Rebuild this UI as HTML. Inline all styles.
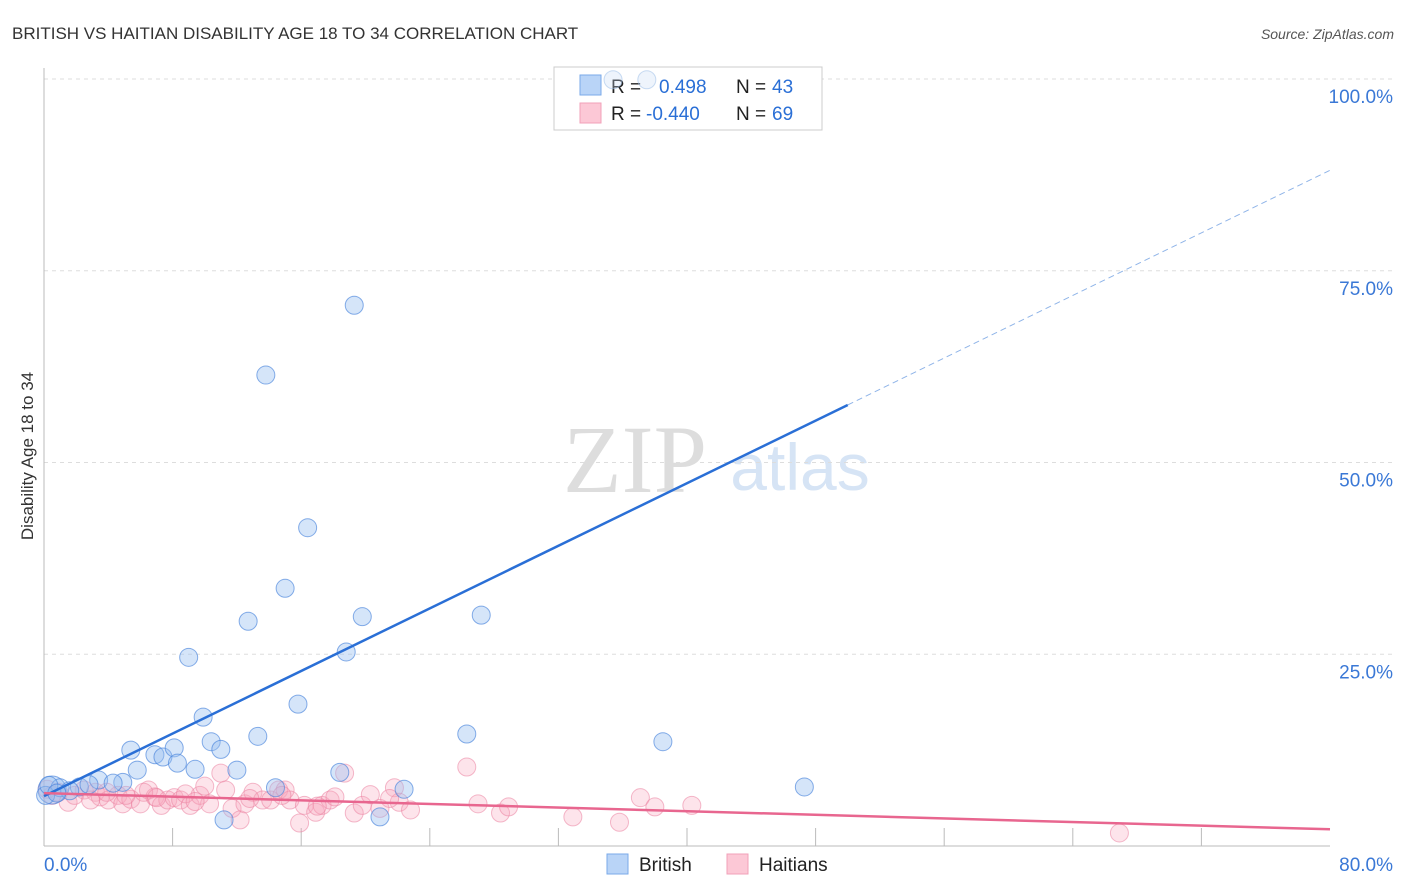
<!DOCTYPE html>
<html><head><meta charset="utf-8">
<style>
body{margin:0;background:#fff;font-family:"Liberation Sans",sans-serif;}
#wrap{position:relative;width:1406px;height:892px;overflow:hidden}
</style></head>
<body>
<div id="wrap">
<svg id="svg" width="1406" height="892" xmlns="http://www.w3.org/2000/svg">
<text x="12" y="39" font-size="17" fill="#333">BRITISH VS HAITIAN DISABILITY AGE 18 TO 34 CORRELATION CHART</text>
<text x="1394" y="39" font-size="14" fill="#555" font-style="italic" text-anchor="end">Source: ZipAtlas.com</text>
<text transform="translate(33,456) rotate(-90)" font-size="17" fill="#333" text-anchor="middle">Disability Age 18 to 34</text>
<text x="635" y="492" font-size="96" fill="#ddd" font-family="Liberation Serif,serif" text-anchor="middle">ZIP</text>
<text x="800" y="490" font-size="66" fill="#d6e4f5" text-anchor="middle">atlas</text>
<g id="grid"></g>
<g>
<rect x="554" y="67" width="268" height="63" fill="#fff" stroke="#ccc"/>
<rect x="580" y="75" width="21" height="20" fill="#b9d4f7" stroke="#7aaae8"/>
<rect x="580" y="103" width="21" height="20" fill="#fcc8d6" stroke="#f2a0b8"/>
<text y="93" font-size="19" fill="#222"><tspan x="611">R =</tspan><tspan x="659" fill="#2a6fd6">0.498</tspan><tspan x="736">N =</tspan><tspan x="772" fill="#2a6fd6">43</tspan></text>
<text y="120" font-size="19" fill="#222"><tspan x="611">R =</tspan><tspan x="646" fill="#2a6fd6">-0.440</tspan><tspan x="736">N =</tspan><tspan x="772" fill="#2a6fd6">69</tspan></text>
</g>
<g id="marks"></g>
<g>
<rect x="607" y="854" width="21" height="20" fill="#b9d4f7" stroke="#7aaae8"/>
<text x="639" y="871" font-size="19" fill="#222">British</text>
<rect x="727" y="854" width="21" height="20" fill="#fcc8d6" stroke="#f2a0b8"/>
<text x="759" y="871" font-size="19" fill="#222">Haitians</text>
</g>
</svg>
</div>
<script>
const xTicks=[0,8,16,24,32,40,48,56,64,72,80];
const yTicks=[25,50,75,100];
const yTickLabels=["25.0%","50.0%","75.0%","100.0%"];
const britishX=[0.5,1.0,2.2,3.4,4.9,4.3,5.4,5.8,6.9,7.4,8.1,8.3,9.0,9.4,9.9,10.4,11.0,11.2,12.0,12.7,13.3,13.8,14.4,15.0,15.8,16.4,18.8,18.4,19.3,19.8,20.9,22.4,26.3,27.2,38.5,47.3,35.4,37.5,0.1,1.6,2.8,0.3,0.8];
const britishY=[7.3,7.6,7.7,8.6,8.3,8.2,12.5,9.9,11.9,11.6,12.8,10.8,24.6,10.0,16.8,13.6,12.6,3.4,9.9,29.3,14.3,61.4,7.6,33.6,18.5,41.5,25.3,9.6,70.5,29.9,3.8,7.4,14.6,30.1,13.6,7.7,99.9,99.9,6.6,7.2,8.0,7.9,6.9];
const haitianX=[0.5,1.5,2.5,3.2,3.5,4.0,4.6,4.9,5.4,6.0,6.5,6.9,7.3,7.7,8.1,8.5,9.1,9.7,10.0,10.3,11.0,11.3,11.7,12.2,12.5,13.0,13.6,14.1,14.6,15.0,15.3,15.9,16.2,16.9,17.3,17.8,18.7,19.3,19.8,20.9,21.8,22.1,22.8,26.3,27.0,28.4,28.9,32.9,35.8,37.1,38.0,40.3,66.9,0.9,1.9,2.9,3.9,5.1,6.2,7.0,8.8,9.4,12.8,14.8,17.0,18.1,20.3,21.5,0.2];
const haitianY=[6.6,5.7,7.3,7.0,6.4,6.0,6.6,5.5,6.1,5.5,7.3,6.4,5.3,6.0,6.3,6.0,5.3,6.6,7.8,5.5,9.5,7.3,4.9,3.4,5.5,7.0,6.0,6.0,7.3,7.3,6.0,3.0,5.3,4.4,5.3,6.0,9.5,4.3,5.3,4.9,7.6,5.7,4.7,10.3,5.5,4.3,5.1,3.8,3.1,6.3,5.1,5.3,1.7,7.0,6.6,6.0,7.0,6.6,7.0,6.3,6.8,5.8,6.2,6.6,5.2,6.4,6.7,6.2,7.4];
const blueLine=[6.5,1.02];   // intercept, slope
const pinkLine=[6.9,-0.059];
const X0=44,X1=1330,Y0=846,Y100=79;
const sx=v=>X0+(X1-X0)*v/80, sy=v=>Y0-(Y0-Y100)*v/100;
const NS="http://www.w3.org/2000/svg";
function mk(t,a,p){const e=document.createElementNS(NS,t);for(const k in a)e.setAttribute(k,a[k]);p.appendChild(e);return e;}
const grid=document.getElementById('grid'),marks=document.getElementById('marks');
yTicks.forEach((v,i)=>{
 const l=mk('line',{x1:X0,x2:1394,y1:sy(v),y2:sy(v),stroke:'#ddd','stroke-dasharray':'4,4'},grid);
 
 
 const t=mk('text',{x:1393,y:sy(v)+24,'font-size':19,fill:'#3a78d6','text-anchor':'end'},grid);
 t.textContent=yTickLabels[i];
 
 
});
mk('line',{x1:X0,x2:X0,y1:68,y2:Y0,stroke:'#bbb'},grid);
mk('line',{x1:X0,x2:X1,y1:Y0,y2:Y0,stroke:'#bbb'},grid);
xTicks.slice(1,-1).forEach(v=>{const t=mk('line',{x1:sx(v),x2:sx(v),y1:828,y2:Y0,stroke:'#bbb'},grid);
 
 });
const tl=mk('text',{x:44,y:871,'font-size':19,fill:'#3a78d6'},grid);tl.textContent='0.0%';


const tr=mk('text',{x:1393,y:871,'font-size':19,fill:'#3a78d6','text-anchor':'end'},grid);tr.textContent='80.0%';


haitianX.forEach((x,i)=>{const c=mk('circle',{cx:sx(x),cy:sy(haitianY[i]),r:9,fill:'rgba(247,165,190,0.3)',stroke:'rgba(235,130,160,0.55)'},marks);
 
 });
britishX.forEach((x,i)=>{const top=britishY[i]>95;
 const c=mk('circle',{cx:sx(x),cy:sy(britishY[i]),r:i===0?14:9,fill:top?'rgba(200,220,245,0.3)':'rgba(150,190,240,0.4)',stroke:top?'rgba(150,185,230,0.5)':'rgba(70,130,220,0.65)'},marks);
 
 });
const bl=mk('line',{x1:sx(0),y1:sy(blueLine[0]),x2:sx(50),y2:sy(blueLine[0]+50*blueLine[1]),stroke:'#2a6fd6','stroke-width':2.5},marks);


const bd=mk('line',{x1:sx(50),y1:sy(blueLine[0]+50*blueLine[1]),x2:sx(80),y2:sy(blueLine[0]+80*blueLine[1]),stroke:'#8fb4e8','stroke-width':1,'stroke-dasharray':'6,4'},marks);


const pl=mk('line',{x1:sx(0),y1:sy(pinkLine[0]),x2:sx(80),y2:sy(pinkLine[0]+80*pinkLine[1]),stroke:'#e8668f','stroke-width':2.5},marks);


</script>
</body></html>
